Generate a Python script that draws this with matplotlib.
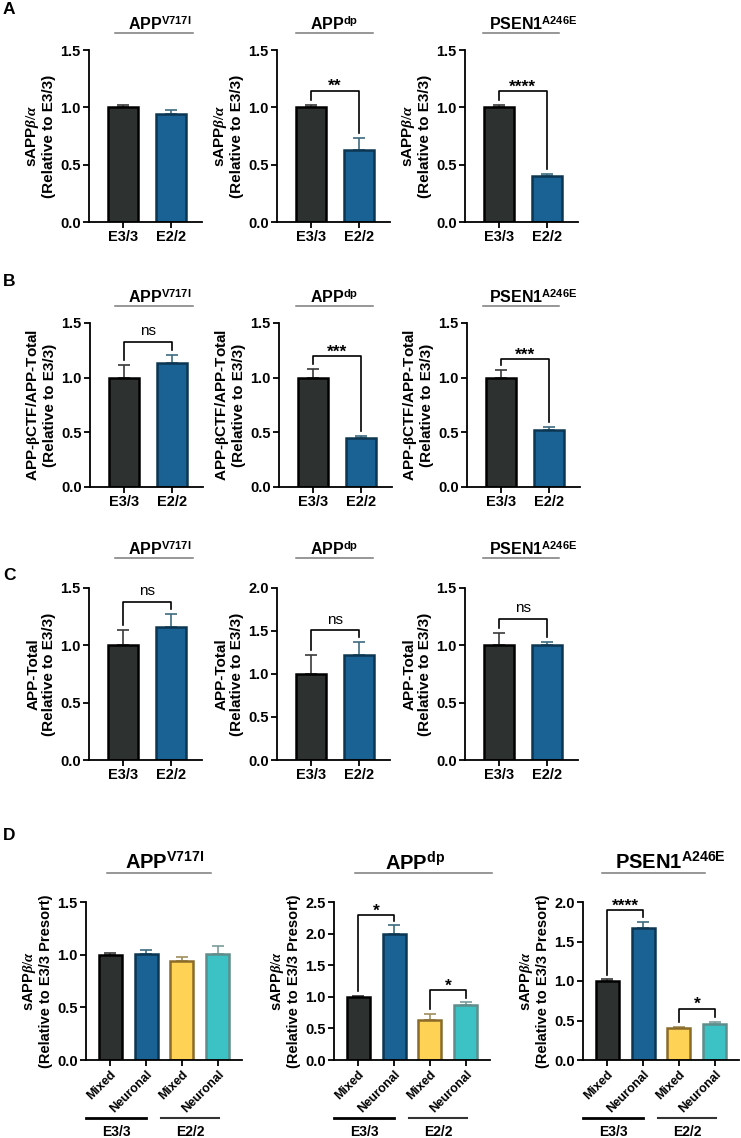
import matplotlib

matplotlib.use("Agg")

import matplotlib.pyplot as plt
from matplotlib.lines import Line2D

plt.rcParams["font.family"] = ["Liberation Sans", "DejaVu Sans"]
plt.rcParams["font.weight"] = "bold"
plt.rcParams["axes.labelweight"] = "bold"
plt.rcParams["mathtext.fontset"] = "custom"
plt.rcParams["mathtext.rm"] = "Liberation Serif"
plt.rcParams["mathtext.it"] = "Liberation Serif:italic"
plt.rcParams["mathtext.bf"] = "Liberation Sans:bold"

W, H = 741, 1138

# ---- data ----
genotypes = ["E3/3", "E2/2"]
model_names = ["APP", "APP", "PSEN1"]
model_sups = ["V717I", "dp", "A246E"]

# A: sAPPb/a relative to E3/3
a_means = [[1.00, 0.94], [1.00, 0.63], [1.00, 0.40]]
a_errs = [[0.02, 0.04], [0.02, 0.10], [0.02, 0.02]]
a_sig = [None, "**", "****"]
a_sig_y = [None, 1.145, 1.14]

# B: APP-bCTF / APP-Total relative to E3/3
b_means = [[1.00, 1.13], [1.00, 0.45], [1.00, 0.52]]
b_errs = [[0.12, 0.08], [0.08, 0.015], [0.07, 0.03]]
b_sig = ["ns", "***", "***"]
b_sig_y = [1.33, 1.195, 1.17]

# C: APP-Total relative to E3/3
c_means = [[1.00, 1.16], [1.00, 1.22], [1.00, 1.00]]
c_errs = [[0.13, 0.11], [0.22, 0.15], [0.11, 0.03]]
c_sig = ["ns", "ns", "ns"]
c_sig_y = [1.38, 1.51, 1.23]
c_ymax = [1.5, 2.0, 1.5]

# D: sAPPb/a by sorted population, relative to E3/3 presort
d_labels = ["Mixed", "Neuronal", "Mixed", "Neuronal"]
d_groups = ["E3/3", "E2/2"]
d_means = [[1.00, 1.01, 0.94, 1.01],
           [1.00, 2.00, 0.63, 0.87],
           [1.00, 1.67, 0.40, 0.46]]
d_errs = [[0.02, 0.03, 0.04, 0.07],
          [0.02, 0.13, 0.10, 0.04],
          [0.02, 0.08, 0.02, 0.02]]
d_sig = [[],
         [(0, 1, 2.29, "*"), (2, 3, 1.105, "*")],
         [(0, 1, 1.895, "****"), (2, 3, 0.65, "*")]]
d_ymax = [1.5, 2.5, 2.0]

# ---- styling ----
fills = ["#2d3130", "#1a6294", "#fdd255", "#3cc1c4"]
edges = ["#000000", "#0c3651", "#8b6b2a", "#5f8d8b"]
errc = ["#3a3a3a", "#3d6b80", "#a08e5c", "#7a9c9b"]


def add_axes(left, top, width, height):
    return fig.add_axes([left / W, 1 - (top + height) / H, width / W, height / H])


def style_axes(ax, ymax, step=0.5):
    for s in ("top", "right"):
        ax.spines[s].set_visible(False)
    for s in ("left", "bottom"):
        ax.spines[s].set_linewidth(1.3)
    ax.set_ylim(0, ymax)
    ticks = [i * step for i in range(int(round(ymax / step)) + 1)]
    ax.set_yticks(ticks)
    ax.set_yticklabels([f"{t:.1f}" for t in ticks])
    ax.tick_params(width=1.3, length=4, labelsize=10.5, pad=2)


def draw_bars(ax, means, errs, width):
    for i, (m, e) in enumerate(zip(means, errs)):
        ax.bar(i, m, width=width, color=fills[i], edgecolor=edges[i],
               linewidth=1.8, zorder=2)
        ax.errorbar(i, m, yerr=[[0], [e]], fmt="none", ecolor=errc[i],
                    elinewidth=1.2, capsize=4.5, capthick=1.2, zorder=1)
    ax.set_xticks(list(range(len(means))))
    return [m + e for m, e in zip(means, errs)]


def bracket(ax, i, j, y, label, tops, ymax):
    gap = 0.03 * ymax
    ax.plot([i, i, j, j], [tops[i] + gap, y, y, tops[j] + gap],
            color="black", lw=1.2, clip_on=False, zorder=3)
    if label == "ns":
        ax.annotate(label, xy=((i + j) / 2, y), xytext=(0, 2.5),
                    textcoords="offset points", ha="center", va="bottom",
                    fontsize=11, fontweight="normal", annotation_clip=False)
    else:
        ax.annotate(label, xy=((i + j) / 2, y), xytext=(0, -2.5),
                    textcoords="offset points", ha="center", va="bottom",
                    fontsize=12.5, fontweight="bold", annotation_clip=False)


def title_with_line(cx, ty, ly, x0, x1, name, sup, size):
    fig.text(cx / W, 1 - ty / H, name + r"$^{\mathbf{" + sup + "}}$",
             ha="center", va="center", fontsize=size, fontweight="bold")
    fig.add_artist(Line2D([x0 / W, x1 / W], [1 - ly / H, 1 - ly / H],
                          color="#7a7a7a", lw=1.1))


fig = plt.figure(figsize=(W / 100, H / 100), dpi=100)

ylab_abc = [r"sAPP$\beta/\alpha$" + "\n(Relative to E3/3)",
            r"APP-$\mathrm{\beta}$CTF/APP-Total" + "\n(Relative to E3/3)",
            "APP-Total\n(Relative to E3/3)"]
row_tops = [50, 323, 588]
row_heights = [172, 164, 172]
row_lefts = [[89, 277, 465], [90, 279, 467], [89, 277, 465]]
row_means = [a_means, b_means, c_means]
row_errs = [a_errs, b_errs, c_errs]
row_sig = [a_sig, b_sig, c_sig]
row_sig_y = [a_sig_y, b_sig_y, c_sig_y]
row_ymax = [[1.5, 1.5, 1.5], [1.5, 1.5, 1.5], c_ymax]
title_y = [24, 297, 549]
title_cx = [160, 334, 533]
title_lines = [(115, 193), (296, 373), (483, 559)]
letters = ["A", "B", "C", "D"]
letter_y = [10, 282, 576, 836]

for r in range(3):
    for k in range(3):
        ax = add_axes(row_lefts[r][k], row_tops[r], 113, row_heights[r])
        ymax = row_ymax[r][k]
        style_axes(ax, ymax)
        tops = draw_bars(ax, row_means[r][k], row_errs[r][k], 0.63)
        ax.set_xlim(-0.7, 1.65)
        ax.set_xticklabels(genotypes)
        ax.set_ylabel(ylab_abc[r], fontsize=11, linespacing=1.1, labelpad=3)
        if row_sig[r][k]:
            bracket(ax, 0, 1, row_sig_y[r][k], row_sig[r][k], tops, ymax)
        title_with_line(title_cx[k], title_y[r], title_y[r] + 9,
                        title_lines[k][0], title_lines[k][1],
                        model_names[k], model_sups[k], 11.5)

d_lefts = [86, 334, 583]
d_title_cx = [165, 415, 670]
d_title_lines = [(107, 211), (355, 492), (602, 705)]
for k in range(3):
    ax = add_axes(d_lefts[k], 902, 156, 158)
    ymax = d_ymax[k]
    style_axes(ax, ymax)
    tops = draw_bars(ax, d_means[k], d_errs[k], 0.64)
    ax.set_xlim(-0.67, 3.67)
    ax.set_xticklabels(d_labels, rotation=45, ha="right",
                       rotation_mode="anchor", fontsize=9)
    ax.set_ylabel(r"sAPP$\beta/\alpha$" + "\n(Relative to E3/3 Presort)",
                  fontsize=10.5, linespacing=1.1, labelpad=3)
    for i, j, y, lab in d_sig[k]:
        bracket(ax, i, j, y, lab, tops, ymax)
    trans = ax.get_xaxis_transform()
    for g, (x0, x1, lw, col) in zip(d_groups, [(-0.67, 1.0, 2.0, "black"),
                                               (1.42, 3.02, 1.5, "#333333")]):
        ax.plot([x0, x1], [-0.367, -0.367], transform=trans, color=col,
                lw=lw, clip_on=False)
        ax.text((x0 + x1) / 2, -0.455, g, transform=trans, ha="center",
                va="center", fontsize=10, fontweight="bold")
    title_with_line(d_title_cx[k], 862, 873, d_title_lines[k][0],
                    d_title_lines[k][1], model_names[k], model_sups[k], 14.5)

for lt, ly in zip(letters, letter_y):
    fig.text(3 / W, 1 - ly / H, lt, ha="left", va="center",
             fontsize=12.5, fontweight="bold")

fig.savefig("out.png", dpi=100)
